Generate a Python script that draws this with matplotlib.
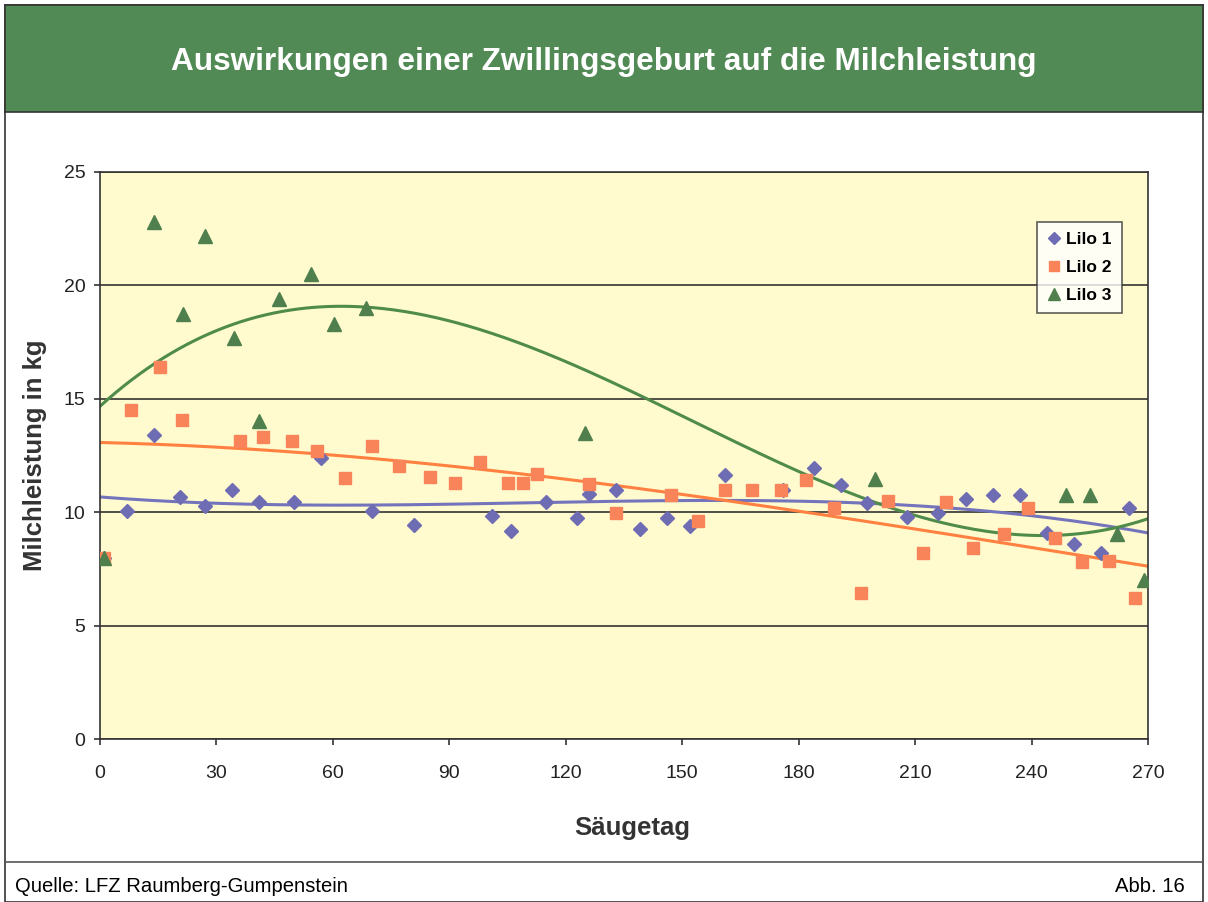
import numpy as np
import matplotlib
matplotlib.use('Agg')
import matplotlib.pyplot as plt
from matplotlib.patches import Rectangle
from matplotlib.lines import Line2D

matplotlib.rcParams['font.family'] = ['Liberation Sans', 'DejaVu Sans']

# Säugetag / Milchleistung (kg)
tag1 = [1, 7, 14, 20.5, 27, 34, 41, 50, 57, 70, 81, 101, 106, 115, 123, 126, 133, 139, 146,
        152, 161, 176, 184, 191, 197.5, 208, 216, 223, 230, 237, 244, 251, 258, 265]
lilo1 = [8.0, 10.05, 13.4, 10.65, 10.27, 11.0, 10.45, 10.45, 12.4, 10.05, 9.45, 9.83, 9.17, 10.45, 9.74, 10.8, 11.0, 9.26, 9.74,
         9.4, 11.65, 11.0, 11.94, 11.2, 10.4, 9.8, 9.96, 10.6, 10.75, 10.75, 9.1, 8.6, 8.2, 10.2]

tag2 = [1, 8, 15.5, 21, 36, 42, 49.5, 56, 63, 70, 77, 85, 91.5, 98, 105, 109, 112.5, 126, 133,
        147, 154, 161, 168, 175.5, 182, 189, 196, 203, 212, 218, 225, 233, 239, 246, 253, 260, 266.7]
lilo2 = [8.0, 14.5, 16.4, 14.07, 13.14, 13.3, 13.14, 12.7, 11.5, 12.9, 12.04, 11.55, 11.29, 12.2, 11.29, 11.29, 11.7, 11.24, 9.96,
         10.78, 9.6, 11.0, 11.0, 11.0, 11.4, 10.2, 6.45, 10.5, 8.2, 10.45, 8.4, 9.04, 10.2, 8.86, 7.8, 7.85, 6.2]

tag3 = [1, 14, 21.4, 27, 34.5, 41, 46, 54.3, 60.3, 68.5, 125, 199.7, 249, 255, 262, 269]
lilo3 = [8.0, 22.8, 18.75, 22.2, 17.7, 14.0, 19.4, 20.5, 18.3, 19.0, 13.5, 11.45, 10.75, 10.75, 9.05, 7.0]

serien = [
    ('Lilo 1', tag1, lilo1, 'D', '#6E6CB2', '#7474BC', 7.5),
    ('Lilo 2', tag2, lilo2, 's', '#F9845A', '#FF8040', 8.5),
    ('Lilo 3', tag3, lilo3, '^', '#4E7F4C', '#4F8B4B', 9.5),
]

fig = plt.figure(figsize=(12.08, 9.02), dpi=100)
W, H = 1208, 902

# Rahmen, Kopfzeile, Fußzeile
fig.patches.append(Rectangle((5 / W, 0), 1198 / W, 1 - 5 / H, transform=fig.transFigure,
                             facecolor='white', edgecolor='#333333', lw=1.2, zorder=-2))
fig.patches.append(Rectangle((5 / W, 1 - 112 / H), 1198 / W, 107 / H, transform=fig.transFigure,
                             facecolor='#518A55', edgecolor='#333333', lw=1.2, zorder=-1))
fig.lines.append(Line2D([5 / W, 1203 / W], [1 - 862 / H] * 2, transform=fig.transFigure,
                        color='#555555', lw=1.2))
fig.text(0.5, 1 - 62 / H, 'Auswirkungen einer Zwillingsgeburt auf die Milchleistung',
         color='white', fontsize=22.7, fontweight='bold', ha='center', va='center')
fig.text(15 / W, 1 - 886 / H, 'Quelle: LFZ Raumberg-Gumpenstein', fontsize=14.6, va='center')
fig.text(1185 / W, 1 - 886 / H, 'Abb. 16', fontsize=14.6, va='center', ha='right')

ax = fig.add_axes([100 / W, 1 - 739 / H, 1048 / W, 567 / H])
ax.set_zorder(2)
ax.set_facecolor('#FFFBCF')

xs = np.linspace(0, 270, 400)
for name, t, v, m, mc, lc, ms in serien:
    koef = np.polyfit(t, v, 3)
    ax.plot(xs, np.polyval(koef, xs), color=lc, lw=2.2, zorder=2)
for name, t, v, m, mc, lc, ms in serien:
    ax.plot(t, v, linestyle='none', marker=m, markersize=ms, color=mc, label=name, zorder=3)

ax.set_xlim(0, 270)
ax.set_ylim(0, 25)
ax.set_xticks(range(0, 271, 30))
ax.set_yticks(range(0, 26, 5))
ax.yaxis.grid(True, color='#222222', lw=1.1)
ax.set_axisbelow(True)
for s in ax.spines.values():
    s.set_color('#333333')
    s.set_linewidth(1.2)
ax.tick_params(labelsize=14, colors='#222222', length=4.5, width=1.1)
ax.tick_params(axis='y', pad=6)
ax.tick_params(axis='x', pad=14)

ax.set_xlabel('Säugetag', fontsize=18.5, fontweight='bold', color='#333333', labelpad=22)
ax.xaxis.set_label_coords(0.508, -0.135)
ax.set_ylabel('Milchleistung in kg', fontsize=18.5, fontweight='bold', color='#333333', labelpad=12)

leg = ax.legend(loc='upper right', bbox_to_anchor=(0.975, 0.912), frameon=True, fancybox=False,
                prop={'weight': 'bold', 'size': 12.5}, handlelength=0.7, handletextpad=0.35,
                borderpad=0.6, labelspacing=0.72, markerscale=0.85, borderaxespad=0)
leg.get_frame().set_edgecolor('#333333')
leg.get_frame().set_linewidth(1.2)

fig.savefig('out.png', dpi=100)
